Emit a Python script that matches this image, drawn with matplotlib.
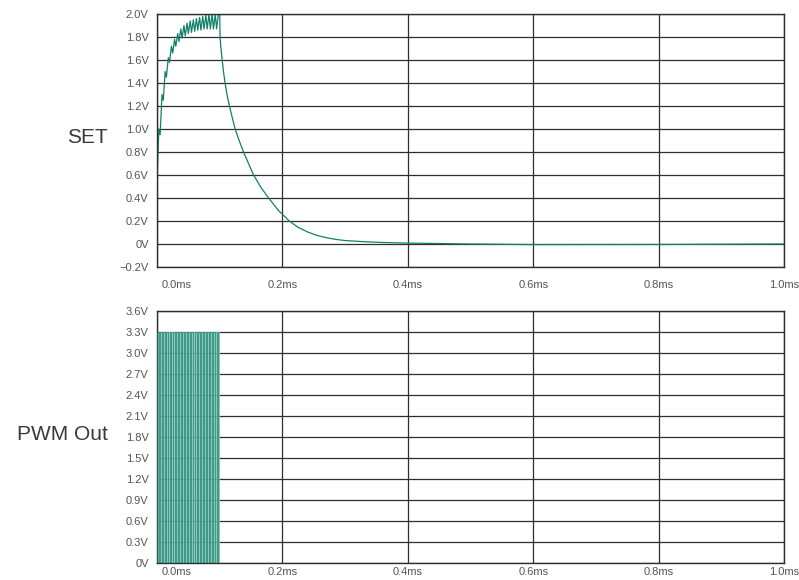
import matplotlib
matplotlib.use("Agg")
import matplotlib.pyplot as plt
from matplotlib.transforms import ScaledTranslation

# SET signal: sawtooth while PWM runs, then decay (ms, V)
set_times = [0.000, 0.003, 0.005, 0.008, 0.010, 0.013, 0.015, 0.018, 0.020, 0.023,
             0.025, 0.028, 0.030, 0.033, 0.035, 0.038, 0.040, 0.043, 0.045, 0.048,
             0.050, 0.053, 0.055, 0.058, 0.060, 0.063, 0.065, 0.068, 0.070, 0.073,
             0.075, 0.078, 0.080, 0.083, 0.085, 0.088, 0.090, 0.093, 0.095, 0.098,
             0.1000, 0.1006, 0.1020, 0.1040, 0.1060, 0.1086, 0.1120, 0.1155, 0.1200,
             0.1246, 0.1310, 0.1380, 0.1460, 0.1540, 0.1660, 0.1780, 0.1940, 0.2110,
             0.2250, 0.2400, 0.2550, 0.2700, 0.2850, 0.3000, 0.3300, 0.3600, 0.4000,
             0.5000, 0.6000, 0.8000, 1.0000]
set_volts = [0.55, 1.00, 0.95, 1.30, 1.25, 1.50, 1.45, 1.62, 1.58, 1.72,
             1.66, 1.78, 1.72, 1.83, 1.76, 1.87, 1.79, 1.90, 1.81, 1.92,
             1.83, 1.94, 1.84, 1.95, 1.85, 1.96, 1.86, 1.97, 1.86, 1.98,
             1.87, 1.99, 1.87, 2.00, 1.87, 2.00, 1.87, 2.00, 1.87, 2.00,
             2.00, 1.80, 1.70, 1.60, 1.50, 1.40, 1.29, 1.20, 1.10,
             1.00, 0.90, 0.80, 0.70, 0.60, 0.49, 0.40, 0.29, 0.20,
             0.145, 0.105, 0.075, 0.055, 0.04, 0.03, 0.02, 0.013, 0.008,
             0.0, -0.005, -0.004, 0.0]

# PWM pulses (start times in ms)
pwm_starts = [0.000, 0.005, 0.010, 0.015, 0.020, 0.025, 0.030, 0.035, 0.040, 0.045,
              0.050, 0.055, 0.060, 0.065, 0.070, 0.075, 0.080, 0.085, 0.090, 0.095]
pwm_width = 0.003
pwm_high = 3.3

x_ticks = [0.0, 0.2, 0.4, 0.6, 0.8, 1.0]
x_labels = ["0.0ms", "0.2ms", "0.4ms", "0.6ms", "0.8ms", "1.0ms"]
set_ticks = [-0.2, 0.0, 0.2, 0.4, 0.6, 0.8, 1.0, 1.2, 1.4, 1.6, 1.8, 2.0]
set_labels = ["\u22120.2V", "0V", "0.2V", "0.4V", "0.6V", "0.8V", "1.0V",
              "1.2V", "1.4V", "1.6V", "1.8V", "2.0V"]
pwm_ticks = [0.0, 0.3, 0.6, 0.9, 1.2, 1.5, 1.8, 2.1, 2.4, 2.7, 3.0, 3.3, 3.6]
pwm_labels = ["0V", "0.3V", "0.6V", "0.9V", "1.2V", "1.5V", "1.8V", "2.1V",
              "2.4V", "2.7V", "3.0V", "3.3V", "3.6V"]

LINE = "#11806a"
FILL = "#80c2b2"
GRID = "#2e2e2e"
TEXT = "#555555"

plt.rcParams["font.family"] = ["Liberation Sans", "DejaVu Sans"]

fig = plt.figure(figsize=(7.99, 5.80), dpi=100)
W, H = 799, 580


def make_axes(top_px, bottom_px):
    ax = fig.add_axes([157 / W, 1 - bottom_px / H, (784 - 157) / W, (bottom_px - top_px) / H])
    return ax


def style(ax, yticks, ylabels, ymin, ymax, name, xpad):
    ax.set_xlim(0, 1.0)
    ax.set_ylim(ymin, ymax)
    ax.set_xticks(x_ticks)
    ax.set_xticklabels(x_labels)
    ax.set_yticks(yticks)
    ax.set_yticklabels(ylabels)
    ax.tick_params(length=0, pad=6, labelsize=8, colors=TEXT)
    ax.tick_params(axis="x", pad=xpad)
    first = ax.get_xticklabels()[0]
    first.set_horizontalalignment("left")
    first.set_transform(first.get_transform() + ScaledTranslation(5 / 100, 0, fig.dpi_scale_trans))
    ax.grid(True, color=GRID, linewidth=0.9)
    ax.set_axisbelow(True)
    for sp in ax.spines.values():
        sp.set_color(GRID)
        sp.set_linewidth(1.0)
    ax.text(-0.078, 0.51, name, transform=ax.transAxes, ha="right", va="center",
            fontsize=15, color="#3a3a3a")


ax1 = make_axes(14, 267)
ax1.plot(set_times, set_volts, color=LINE, linewidth=0.9)
style(ax1, set_ticks, set_labels, -0.2, 2.0, "SET", 9)

ax2 = make_axes(311, 563)
pwm_t = []
pwm_v = []
for s in pwm_starts:
    pwm_t += [s, s, s + pwm_width, s + pwm_width]
    pwm_v += [0.0, pwm_high, pwm_high, 0.0]
pwm_t.append(0.1)
pwm_v.append(0.0)
ax2.fill_between([0.0, 0.1], 0, pwm_high, color=FILL, alpha=0.9, linewidth=0, zorder=2)
ax2.plot(pwm_t, pwm_v, color=LINE, linewidth=0.45, zorder=3)
style(ax2, pwm_ticks, pwm_labels, 0, 3.6, "PWM Out", 3)

fig.savefig("out.png", dpi=100)
